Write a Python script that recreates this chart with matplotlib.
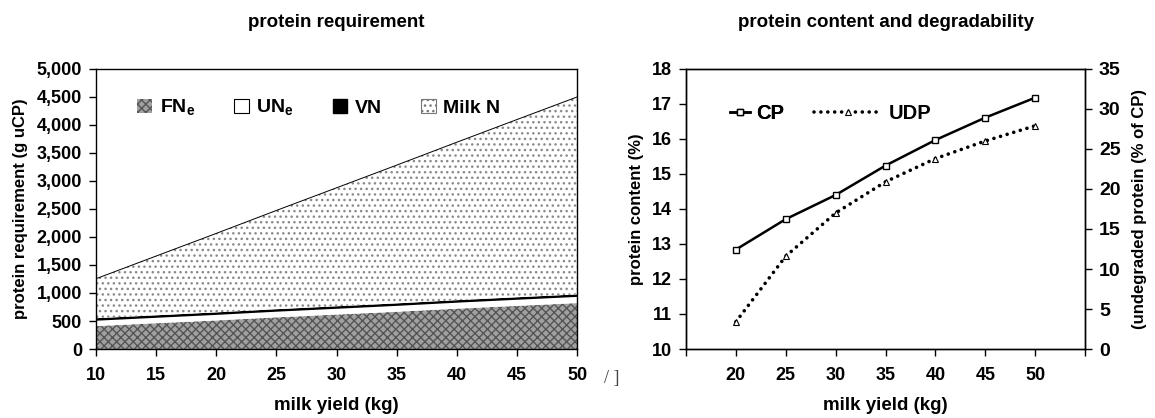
import numpy as np
import matplotlib
matplotlib.use('Agg')
import matplotlib.pyplot as plt
from matplotlib.patches import Patch
from matplotlib.lines import Line2D
from matplotlib.ticker import FuncFormatter

plt.rcParams['font.family'] = 'Liberation Sans'
plt.rcParams['font.weight'] = 'bold'
plt.rcParams['axes.titleweight'] = 'bold'
plt.rcParams['axes.labelweight'] = 'bold'
plt.rcParams['mathtext.fontset'] = 'custom'
plt.rcParams['mathtext.rm'] = 'Liberation Sans:bold'
plt.rcParams['mathtext.bf'] = 'Liberation Sans:bold'
plt.rcParams['hatch.linewidth'] = 1.0

# protein requirement (stacked, g uCP)
milk = [10, 15, 20, 25, 30, 35, 40, 45, 50]
fn_e = [410, 460, 510, 565, 615, 665, 720, 770, 820]
un_e = [95, 97, 99, 101, 103, 105, 107, 109, 110]
vn = [45, 45, 45, 45, 45, 45, 45, 45, 45]
milk_n = [705, 1058, 1410, 1763, 2115, 2468, 2820, 3173, 3525]
req_labels = ['FN$_\\mathrm{e}$', 'UN$_\\mathrm{e}$', 'VN', 'Milk N']

# protein content and degradability
yield_cp = [20, 25, 30, 35, 40, 45, 50]
cp = [12.84, 13.71, 14.40, 15.24, 15.97, 16.61, 17.18]
udp = [3.4, 11.6, 17.0, 20.9, 23.8, 26.0, 27.9]

W, H = 1155, 418
fig = plt.figure(figsize=(W / 100, H / 100), dpi=100)

def style(ax):
	for s in ax.spines.values():
		s.set_linewidth(1.0)
	ax.tick_params(direction='out', length=5, width=1, labelsize=13, pad=8)

# ---- left: protein requirement
ax1 = fig.add_axes([96 / W, 69 / H, 481 / W, 280 / H])
polys = ax1.stackplot(milk, fn_e, un_e, vn, milk_n,
	colors=['#a0a0a0', 'white', 'black', 'white'], linewidth=0)
polys[0].set_hatch('xxxx')
polys[0].set_edgecolor('#555555')
polys[3].set_hatch('...')
polys[3].set_edgecolor('#8a8a8a')
top = np.array(fn_e) + np.array(un_e) + np.array(vn) + np.array(milk_n)
ax1.plot(milk, top, color='k', lw=0.7)
ax1.set_xlim(10, 50)
ax1.set_ylim(0, 5000)
ax1.set_xticks(milk)
ax1.set_yticks(range(0, 5001, 500))
ax1.yaxis.set_major_formatter(FuncFormatter(lambda v, p: '{:,}'.format(int(v))))
style(ax1)
ax1.tick_params(axis='y', pad=5)
ax1.set_xlabel('milk yield (kg)', fontsize=13.5, labelpad=9)
ax1.set_ylabel('protein requirement (g uCP)', fontsize=12, labelpad=6)
ax1.set_title('protein requirement', fontsize=13.5, pad=30)
handles = [Patch(facecolor='#a0a0a0', edgecolor='#555555', hatch='xxxx', lw=0),
	Patch(facecolor='white', edgecolor='black', lw=0.8),
	Patch(facecolor='black', edgecolor='black'),
	Patch(facecolor='white', edgecolor='#777777', hatch='...', lw=0.8)]
ax1.legend(handles, req_labels, ncol=4, frameon=False, fontsize=14,
	loc='center left', bbox_to_anchor=(0.07, 0.86), handlelength=0.75,
	handleheight=0.75, handletextpad=0.4, columnspacing=2.0, borderaxespad=0)

# ---- right: protein content and degradability
ax2 = fig.add_axes([686 / W, 69 / H, 399 / W, 280 / H])
ax2.plot(yield_cp, cp, color='k', lw=1.8, marker='s', ms=5, mfc='white', mec='k', mew=1)
ax3 = ax2.twinx()
ax3.plot(yield_cp, udp, color='k', lw=2.6, ls=(0, (0.01, 1.9)), dash_capstyle='round',
	marker='^', ms=5, mfc='white', mec='k', mew=0.8)
ax2.set_xlim(15, 55)
ax2.set_xticks(range(15, 56, 5))
ax2.set_xticklabels([''] + [str(v) for v in yield_cp] + [''])
ax2.set_ylim(10, 18)
ax2.set_yticks(range(10, 19))
ax3.set_ylim(0, 35)
ax3.set_yticks(range(0, 36, 5))
style(ax2)
style(ax3)
ax2.tick_params(axis='y', pad=5)
ax3.tick_params(labelsize=14, pad=5)
ax2.set_xlabel('milk yield (kg)', fontsize=13.5, labelpad=9)
ax2.set_ylabel('protein content (%)', fontsize=12, labelpad=6)
ax3.set_ylabel('(undegraded protein (% of CP)', fontsize=12, labelpad=8)
ax2.set_title('protein content and degradability', fontsize=13.5, pad=30)
cp_h = Line2D([], [], color='k', lw=1.8, marker='s', ms=4, mfc='white', mec='k')
udp_h = Line2D([], [], color='k', lw=2.6, ls=(0, (0.01, 1.9)), dash_capstyle='round',
	marker='^', ms=4, mfc='white', mec='k', mew=0.8)
leg = ax2.legend([cp_h], ['CP'], frameon=False, fontsize=14.5, loc='center left',
	bbox_to_anchor=(0.09, 0.84), handlelength=1.0, handletextpad=0.3, borderaxespad=0)
ax2.add_artist(leg)
ax3.legend([udp_h], ['UDP'], frameon=False, fontsize=14.5, loc='center left',
	bbox_to_anchor=(0.30, 0.84), handlelength=3.4, handletextpad=0.3, borderaxespad=0)

# scan artefact between the panels
fig.text(604 / W, 1 - 378 / H, '/ ]', family='Liberation Serif', weight='normal',
	fontsize=13, color='#444444', va='center')

fig.savefig('out.png', dpi=100)
